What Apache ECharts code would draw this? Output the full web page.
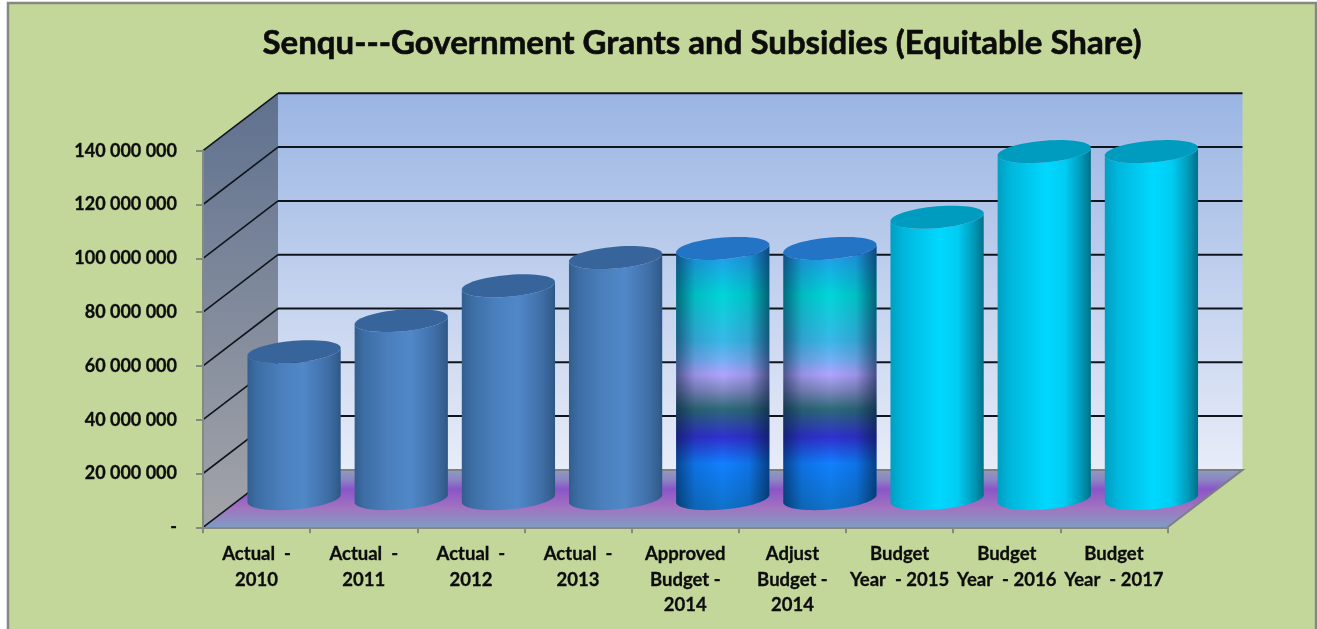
<!DOCTYPE html>
<html>
<head>
<meta charset="utf-8">
<title>Senqu Government Grants and Subsidies</title>
<style>html,body{margin:0;padding:0;background:#fff}#chart{width:1317px;height:629px}</style>
<script src="https://cdn.jsdelivr.net/npm/echarts@6/dist/echarts.min.js"></script>
</head>
<body>
<div id="chart"></div>
<script>
// Equitable share grants per financial year
const categories = ['Actual  -\n2010','Actual  -\n2011','Actual  -\n2012','Actual  -\n2013',
  'Approved\nBudget -\n2014','Adjust\nBudget -\n2014','Budget\nYear  - 2015','Budget\nYear  - 2016','Budget\nYear  - 2017'];
const grantValues = [54600000, 66200000, 79100000, 89600000, 93000000, 93000000, 104600000, 129000000, 129000000];
const yTicks = [0, 20000000, 40000000, 60000000, 80000000, 100000000, 120000000, 140000000];
const yTickLabels = ['-', '20 000 000', '40 000 000', '60 000 000', '80 000 000', '100 000 000', '120 000 000', '140 000 000'];

// Oblique projection of the chart box
const DEPTH_X = 75, DEPTH_Y = 57.4;
const FONT = 'Lato, "Open Sans", sans-serif';
const INK = '#0c0c0c';

const lin = (x2, y2, stops) => ({
  type: 'linear', x: 0, y: 0, x2, y2,
  colorStops: stops.map(s => ({ offset: s[0], color: s[1] }))
});

const steel = {
  top: '#37659b',
  body: lin(1, 0, [[0, '#325e8e'], [0.1, '#3c6da4'], [0.35, '#4a7fbc'], [0.6, '#5088c8'], [0.85, '#406fa8'], [0.96, '#345f90'], [1, '#2e5684']])
};
const cyan = {
  top: '#009cc0',
  body: lin(1, 0, [[0, '#009fc2'], [0.15, '#00b8de'], [0.52, '#00d8ff'], [0.72, '#00cdf3'], [0.9, '#0098b6'], [1, '#006f88']])
};
const banded = {
  top: '#2474c6',
  body: lin(0, 1, [[0, '#2a8df0'], [0.19, '#00d6d8'], [0.36, '#38b8e8'], [0.43, '#70b0f4'], [0.49, '#b0a4ff'], [0.55, '#7f88c0'], [0.62, '#2c6a78'], [0.725, '#3030d0'], [0.825, '#1080ff'], [1, '#0f72c8']]),
  shade: lin(1, 0, [[0, 'rgba(0,20,50,0.55)'], [0.2, 'rgba(0,20,50,0.14)'], [0.5, 'rgba(0,20,50,0)'], [0.78, 'rgba(0,20,50,0.12)'], [1, 'rgba(0,20,50,0.6)']])
};
const looks = [steel, steel, steel, steel, banded, banded, cyan, cyan, cyan];

// Walls and floor, drawn behind the cylinders
function renderPlanes(params, api) {
  const c = params.coordSys;
  const x0 = c.x, x1 = c.x + c.width;
  const yBase = api.coord([0, 0])[1], yTop = api.coord([0, 140000000])[1];
  return {
    type: 'group',
    children: [
      { type: 'polygon', shape: { points: [[x0 + DEPTH_X, yTop - DEPTH_Y], [x1 + DEPTH_X, yTop - DEPTH_Y], [x1 + DEPTH_X, yBase - DEPTH_Y], [x0 + DEPTH_X, yBase - DEPTH_Y]] },
        style: { fill: lin(0, 1, [[0, '#9ab5e3'], [1, '#e8ecf8']]) } },
      { type: 'polygon', shape: { points: [[x0, yTop], [x0 + DEPTH_X, yTop - DEPTH_Y], [x0 + DEPTH_X, yBase - DEPTH_Y], [x0, yBase]] },
        style: { fill: lin(0, 1, [[0, '#5f718f'], [1, '#a3a4a9']]) } },
      { type: 'polygon', shape: { points: [[x0, yBase], [x0 + DEPTH_X, yBase - DEPTH_Y], [x1 + DEPTH_X, yBase - DEPTH_Y], [x1, yBase]] },
        style: { fill: lin(0, 1, [[0, '#8e9cbc'], [0.16, '#8d86c4'], [0.34, '#8a55c8'], [0.65, '#a272c0'], [1, '#7f9cc4']]) } },
      { type: 'polyline', shape: { points: [[x0 + DEPTH_X, yBase - DEPTH_Y], [x1 + DEPTH_X, yBase - DEPTH_Y], [x1, yBase]] },
        style: { fill: null, stroke: '#7d7f85', lineWidth: 2 } }
    ]
  };
}

// Gridlines run across the side wall and along the back wall
function renderGridline(params, api) {
  const c = params.coordSys;
  const value = api.value(1);
  const y = api.coord([0, value])[1];
  const side = { type: 'line', shape: { x1: c.x, y1: y, x2: c.x + DEPTH_X, y2: y - DEPTH_Y },
    style: { stroke: '#10151c', lineWidth: 1.6 } };
  if (value === 0) return side;
  return { type: 'group', children: [side,
    { type: 'line', shape: { x1: c.x + DEPTH_X, y1: y - DEPTH_Y, x2: c.x + c.width + DEPTH_X, y2: y - DEPTH_Y },
      style: { stroke: '#10151c', lineWidth: 2 } }] };
}

function renderCylinder(params, api) {
  const idx = api.value(0);
  const look = looks[idx];
  const foot = api.coord([idx, 0]);
  const head = api.coord([idx, api.value(1)]);
  const cx = foot[0] + DEPTH_X / 2;
  const yFoot = foot[1] - DEPTH_Y / 2;
  const yHead = head[1] - DEPTH_Y / 2;
  const a = api.size([1, 0])[0] * 0.435;
  const b = 10.9, tilt = 3.8;
  const rim = (cy, from, to) => {
    const pts = [];
    for (let i = 0; i <= 60; i++) {
      const t = from + (to - from) * i / 60;
      pts.push([cx + a * Math.cos(t), cy + b * Math.sin(t) - tilt * Math.cos(t)]);
    }
    return pts;
  };
  const outline = rim(yFoot, 0, Math.PI).concat(rim(yHead, Math.PI, 0));
  const children = [{ type: 'polygon', shape: { points: outline }, style: { fill: look.body } }];
  if (look.shade) children.push({ type: 'polygon', shape: { points: outline }, style: { fill: look.shade } });
  children.push({ type: 'polygon', shape: { points: rim(yHead, 0, Math.PI * 2) }, style: { fill: look.top } });
  return { type: 'group', children };
}

const chart = echarts.init(document.getElementById('chart'));
chart.setOption({
  animation: false,
  backgroundColor: '#ffffff',
  graphic: [{
    type: 'rect', z: -10, silent: true,
    shape: { x: 8, y: 3, width: 1308, height: 640 },
    style: { fill: '#c4d79b', stroke: '#85897f', lineWidth: 2.5 }
  }],
  title: {
    text: 'Senqu---Government Grants and Subsidies (Equitable Share)',
    left: 697, top: 22, textAlign: 'center',
    textStyle: { fontFamily: FONT, fontWeight: 'bold', fontSize: 33, color: INK, textBorderColor: INK, textBorderWidth: 0.6 }
  },
  grid: { left: 203, top: 150.7, width: 964.5, height: 376.6 },
  xAxis: {
    type: 'category', data: categories, z: 5,
    axisLine: { lineStyle: { color: '#85897f', width: 2 } },
    axisTick: { show: true, length: 6, lineStyle: { color: '#85897f', width: 2 } },
    axisLabel: { interval: 0, margin: 14, lineHeight: 25.5, fontFamily: FONT, fontWeight: 'bold', fontSize: 18.5, color: INK, textBorderColor: INK, textBorderWidth: 0.3 }
  },
  yAxis: {
    type: 'value', min: 0, max: 140000000, interval: 20000000, z: 5,
    axisLine: { show: true, lineStyle: { color: '#85897f', width: 2 } },
    axisTick: { show: true, length: 7, lineStyle: { color: '#85897f', width: 2 } },
    splitLine: { show: false },
    axisLabel: { margin: 26, padding: [5, 0, 0, 0], fontFamily: FONT, fontWeight: 'bold', fontSize: 18, color: INK, textBorderColor: INK, textBorderWidth: 0.3,
      formatter: v => yTickLabels[yTicks.indexOf(v)] }
  },
  series: [
    { type: 'custom', name: 'Planes', z: 1, silent: true, renderItem: renderPlanes, data: [[0, 0]], encode: { x: 0, y: 1 } },
    { type: 'custom', name: 'Gridlines', z: 2, silent: true, renderItem: renderGridline, data: yTicks.map(v => [0, v]), encode: { x: 0, y: 1 } },
    { type: 'custom', name: 'Equitable Share', z: 3, renderItem: renderCylinder, data: grantValues.map((v, i) => [i, v]), encode: { x: 0, y: 1 } }
  ]
});
</script>
</body>
</html>
